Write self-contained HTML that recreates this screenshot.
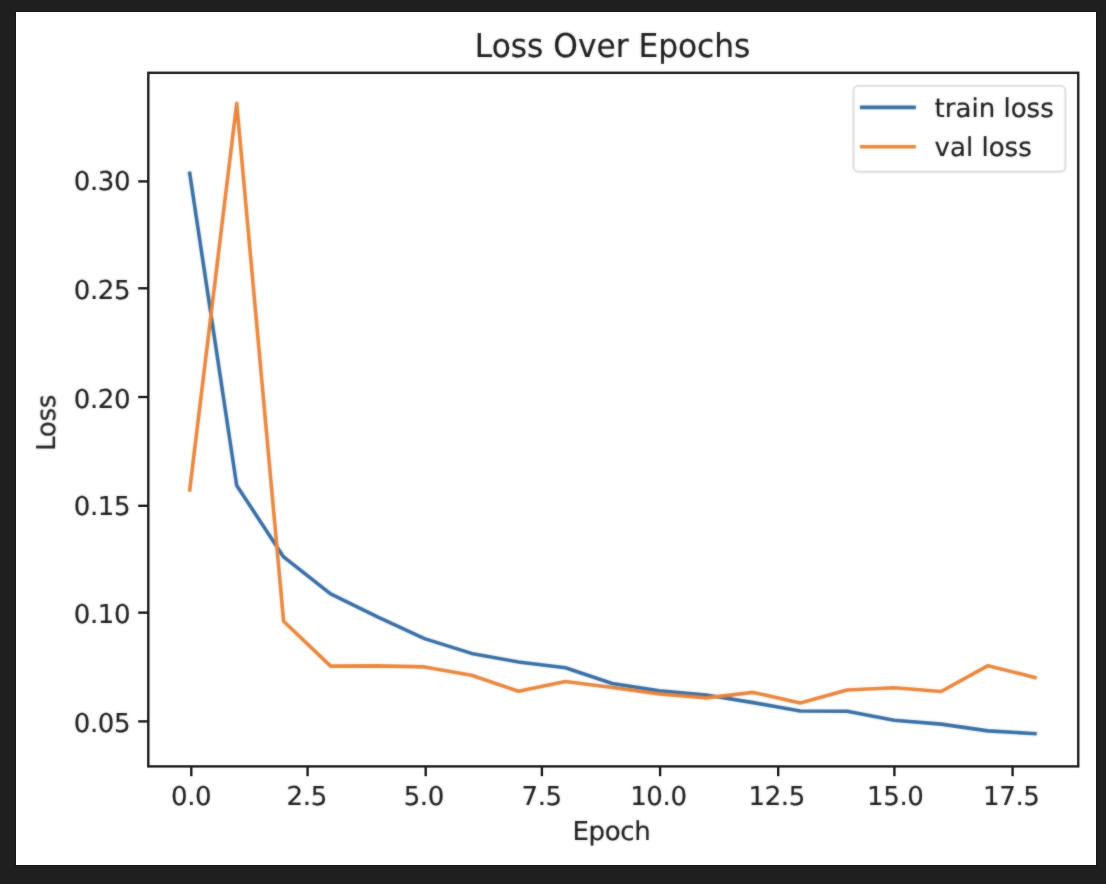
<!DOCTYPE html>
<html lang="en">
<head>
<meta charset="utf-8">
<title>Loss Over Epochs</title>
<style>
html,body{margin:0;padding:0;background:#1f1f1f;}
body{width:1106px;height:884px;overflow:hidden;position:relative;}
svg{display:block;position:absolute;left:0;top:0;}
text{font-family:"DejaVu Sans","Liberation Sans",sans-serif;fill:#1c1c1c;stroke:#1c1c1c;stroke-width:0.2px;text-rendering:geometricPrecision;}
.tick{font-size:26.04px;}
.num{letter-spacing:-0.4px;}
.title{font-size:31.25px;}
</style>
</head>
<body>
<svg width="1106" height="884" viewBox="0 0 1106 884">
<defs>
<filter id="softLines" x="0" y="0" width="1106" height="884" filterUnits="userSpaceOnUse" color-interpolation-filters="sRGB"><feGaussianBlur in="SourceGraphic" stdDeviation="1" result="b"/><feComposite in="SourceGraphic" in2="b" operator="arithmetic" k1="0" k2="0.50" k3="0.50" k4="0"/></filter>
<filter id="softAxes" x="0" y="0" width="1106" height="884" filterUnits="userSpaceOnUse" color-interpolation-filters="sRGB"><feGaussianBlur in="SourceGraphic" stdDeviation="1" result="b"/><feComposite in="SourceGraphic" in2="b" operator="arithmetic" k1="0" k2="0.80" k3="0.20" k4="0"/></filter>
<filter id="softText" x="0" y="0" width="1106" height="884" filterUnits="userSpaceOnUse" color-interpolation-filters="sRGB"><feGaussianBlur in="SourceGraphic" stdDeviation="1" result="b"/><feComposite in="SourceGraphic" in2="b" operator="arithmetic" k1="0" k2="0.60" k3="0.40" k4="0"/></filter>
</defs>
<rect x="0" y="0" width="1106" height="884" fill="#1f1f1f"/>
<!-- figure background + data lines + legend frame -->
<rect x="15" y="11" width="1082" height="855" fill="#151515"/>
<rect x="16" y="12" width="1080" height="853" fill="#ffffff"/>
<g filter="url(#softLines)">
<g fill="none" stroke-width="3.6" stroke-linejoin="round" stroke-linecap="square">
<polyline stroke="#346ca3" points="189.7,173.2 236.7,485.4 283.6,556.9 330.6,593.8 377.5,616.9 424.5,638.6 471.5,653.4 518.4,662.0 565.4,667.8 612.3,683.5 659.3,690.7 706.3,695.0 753.2,702.6 800.2,711.0 847.1,711.2 894.1,720.3 941.1,724.1 988.0,730.9 1035.0,733.6"/>
<polyline stroke="#e8843a" points="189.7,489.9 236.7,103.4 283.6,621.3 330.6,666.1 377.5,665.9 424.5,666.9 471.5,675.3 518.4,691.2 565.4,681.5 612.3,687.5 659.3,693.9 706.3,697.9 753.2,692.4 800.2,703.0 847.1,690.0 894.1,687.7 941.1,691.5 988.0,665.7 1035.0,677.5"/>
</g>
<rect x="853.4" y="85.9" width="212.0" height="85.9" rx="5" ry="5" fill="#ffffff" fill-opacity="0.8" stroke="#cccccc" stroke-opacity="0.75" stroke-width="1.9"/>
<g fill="none" stroke-width="3.6" stroke-linecap="square">
<line stroke="#346ca3" x1="861.7" y1="107.4" x2="914.1" y2="107.4"/>
<line stroke="#e8843a" x1="861.7" y1="146.8" x2="914.1" y2="146.8"/>
</g>
</g>
<!-- axes frame and ticks -->
<g filter="url(#softAxes)" stroke="#1c1c1c" stroke-width="2.4" fill="none">
<rect x="148.3" y="72.8" width="929.95" height="693.6" stroke-linejoin="miter"/>
<line x1="191.3" y1="766.4" x2="191.3" y2="776.2"/>
<line x1="307.6" y1="766.4" x2="307.6" y2="776.2"/>
<line x1="425.7" y1="766.4" x2="425.7" y2="776.2"/>
<line x1="541.9" y1="766.4" x2="541.9" y2="776.2"/>
<line x1="660.1" y1="766.4" x2="660.1" y2="776.2"/>
<line x1="778.2" y1="766.4" x2="778.2" y2="776.2"/>
<line x1="894.4" y1="766.4" x2="894.4" y2="776.2"/>
<line x1="1012.6" y1="766.4" x2="1012.6" y2="776.2"/>
<line x1="148.3" y1="721.40" x2="138.2" y2="721.40"/>
<line x1="148.3" y1="612.65" x2="138.2" y2="612.65"/>
<line x1="148.3" y1="505.80" x2="138.2" y2="505.80"/>
<line x1="148.3" y1="397.00" x2="138.2" y2="397.00"/>
<line x1="148.3" y1="288.30" x2="138.2" y2="288.30"/>
<line x1="148.3" y1="181.40" x2="138.2" y2="181.40"/>
</g>
<!-- text -->
<g filter="url(#softText)">
<g class="tick num" text-anchor="middle">
<text x="191.1" y="804.9">0.0</text>
<text x="306.7" y="804.9">2.5</text>
<text x="423.8" y="804.9">5.0</text>
<text x="541.6" y="804.9">7.5</text>
<text x="658.4" y="804.9">10.0</text>
<text x="776.7" y="804.9">12.5</text>
<text x="895.3" y="804.9">15.0</text>
<text x="1011.3" y="804.9">17.5</text>
</g>
<g class="tick num" text-anchor="end">
<text x="130.2" y="732.00">0.05</text>
<text x="130.2" y="623.25">0.10</text>
<text x="130.2" y="514.50">0.15</text>
<text x="130.2" y="407.60">0.20</text>
<text x="130.2" y="298.90">0.25</text>
<text x="130.2" y="190.10">0.30</text>
</g>
<text class="tick" text-anchor="middle" style="letter-spacing:-0.4px" x="611.4" y="840.0">Epoch</text>
<text class="tick" text-anchor="middle" style="letter-spacing:-0.3px" transform="translate(55.1,422.9) rotate(-90)">Loss</text>
<text class="title" text-anchor="middle" transform="translate(612.6,56.5) scale(1,1.05)">Loss Over Epochs</text>
<text class="tick" x="934.6" y="116.5">train loss</text>
<text class="tick" x="934.6" y="155.7">val loss</text>
</g>
</svg>
</body>
</html>
